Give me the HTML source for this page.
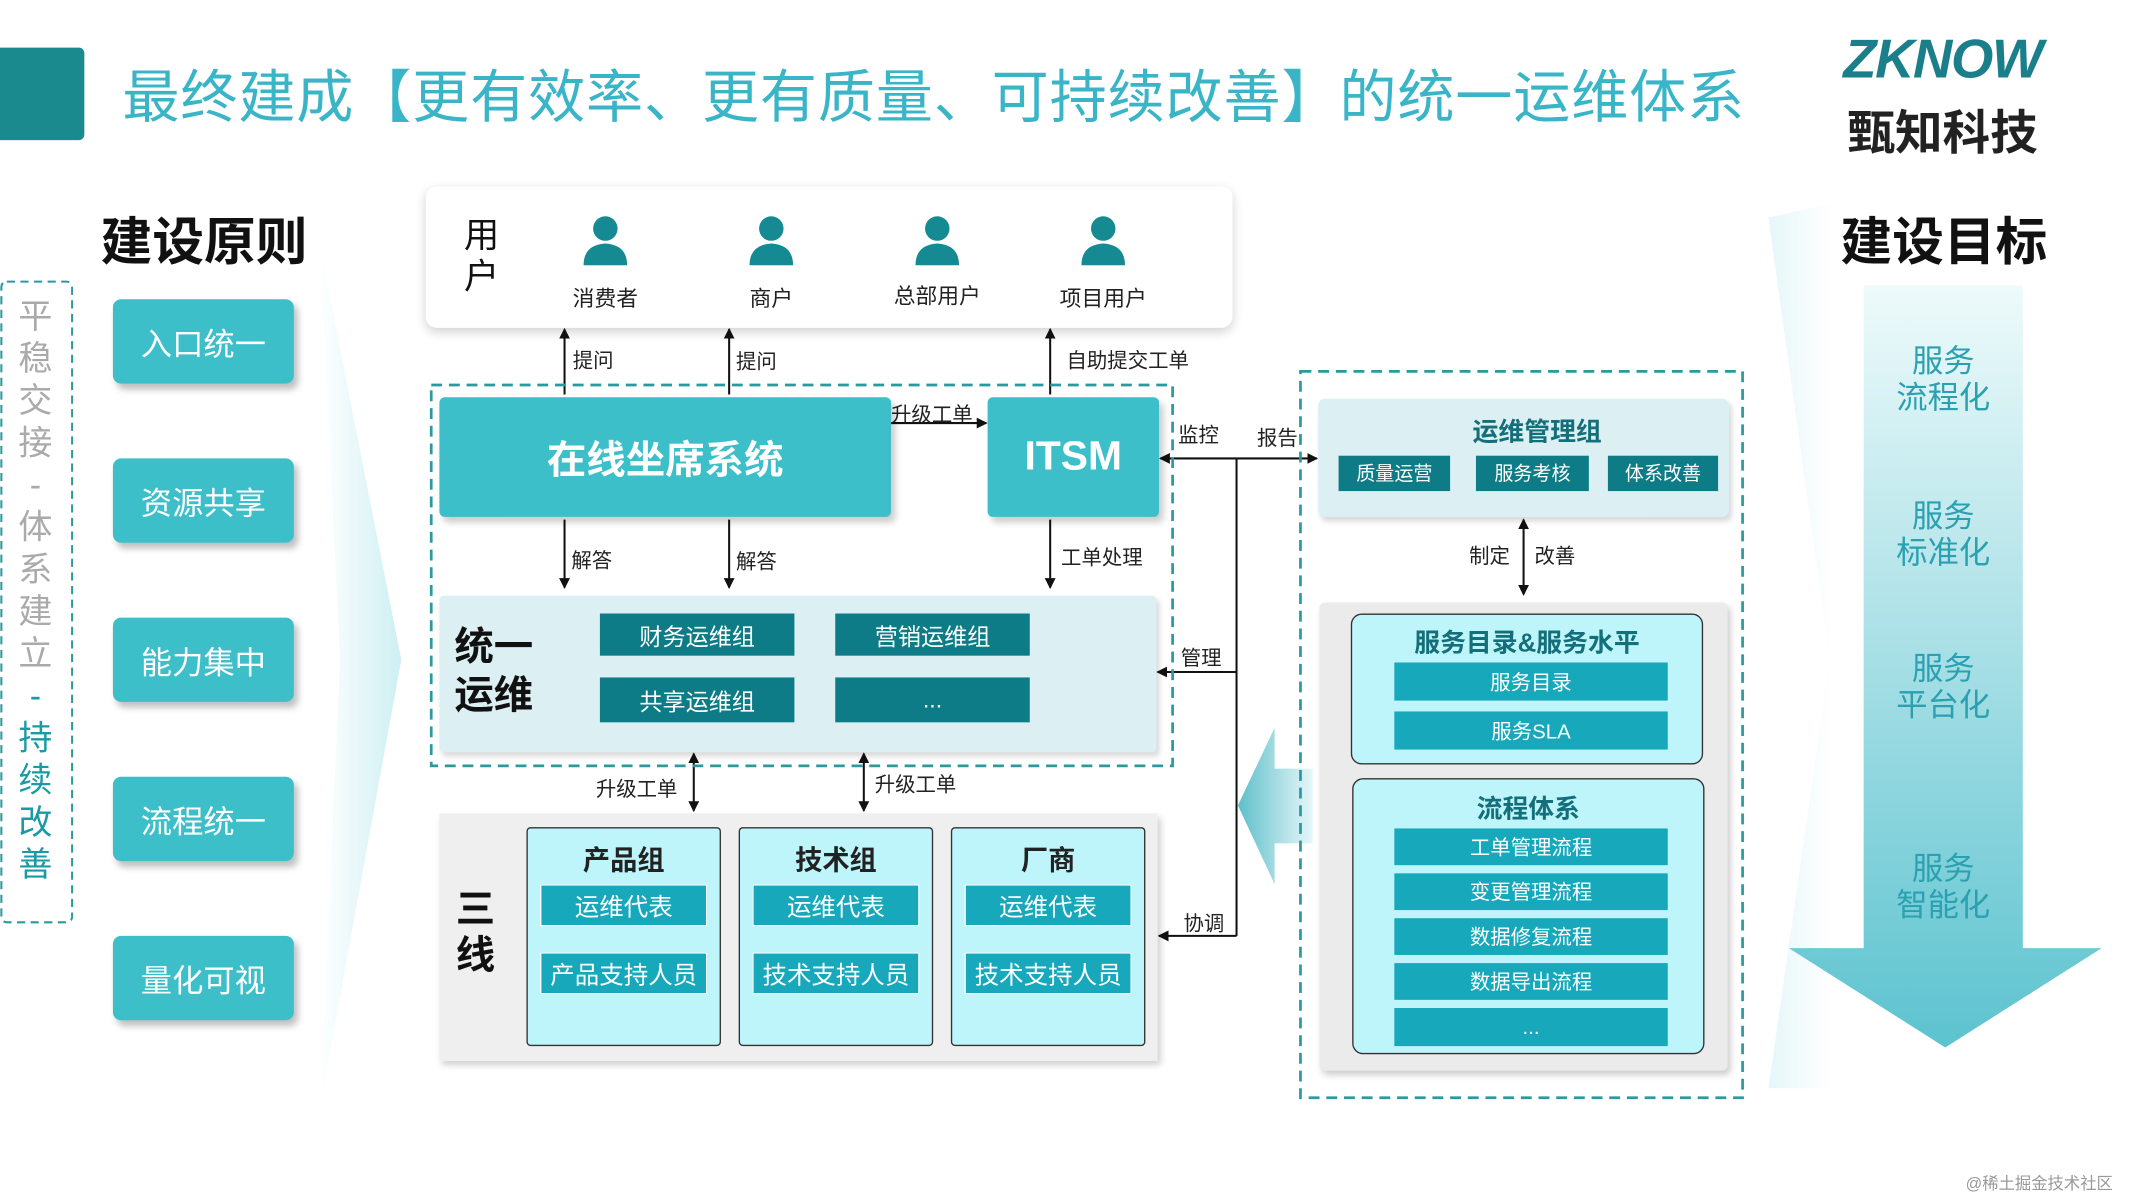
<!DOCTYPE html>
<html><head><meta charset="utf-8"><style>
html,body{margin:0;padding:0;background:#fff;overflow:hidden}
#w{position:absolute;left:0;top:0;width:1568px;height:882px;transform:scale(1.36033);transform-origin:0 0;font-family:"Liberation Sans","Noto Sans CJK SC",sans-serif}
.a{position:absolute;box-sizing:border-box}
.c{display:flex;align-items:center;justify-content:center;text-align:center}
.btn{left:83px;width:133px;height:62px;background:#3dbfca;color:#fff;font-size:23px;border-radius:6px;box-shadow:3px 4px 5px rgba(0,0,0,.25)}
.dk{background:#0e7c86;color:#fff;font-size:17px}
.md{background:#17a8bb;color:#fff;font-size:15px}
.md2{background:#17a8bb;color:#fff;font-size:18px;border:1px solid #fff}
.lb{font-size:15px;color:#222}
.col{background:#bdf5fb;border:1.5px solid #333;border-radius:3px}
.ttl{font-size:20px;font-weight:bold;color:#222}
.goal{left:1370px;width:117px;color:#2aa0b0;font-size:23px;line-height:27px;text-align:center}
</style></head><body><div id="w">
<div class="a" style="left:313px;top:137px;width:593px;height:104px;background:#fff;border-radius:8px;box-shadow:0 3px 8px rgba(0,0,0,.18)"></div>
<svg class="a" style="left:0;top:0" width="1568" height="882">
<defs>
<linearGradient id="g1" x1="0" y1="0" x2="0" y2="1"><stop offset="0" stop-color="#eefafb"/><stop offset="1" stop-color="#5cc3cf"/></linearGradient>
<linearGradient id="g2" x1="0" y1="0" x2="1" y2="0"><stop offset="0" stop-color="#5fbfca"/><stop offset="1" stop-color="#e6f7f9"/></linearGradient>
<linearGradient id="g3" x1="0" y1="0" x2="1" y2="0"><stop offset="0" stop-color="#fff"/><stop offset="1" stop-color="#cdeff3"/></linearGradient>
<linearGradient id="g4" x1="1" y1="0" x2="0" y2="0"><stop offset="0" stop-color="#fff"/><stop offset="1" stop-color="#cdeff3"/></linearGradient>
<marker id="m" markerWidth="8" markerHeight="8" refX="7" refY="4" orient="auto-start-reverse" markerUnits="userSpaceOnUse"><path d="M0,0L8,4L0,8z" fill="#111"/></marker>
</defs>
<path d="M235,180 L295,485 L235,815 L250,485Z" fill="url(#g3)"/>
<path d="M1345,150 L1300,160 L1345,485 L1300,800 L1345,800Z" fill="url(#g4)" opacity=".5"/>
<path d="M1370,210H1487V697H1545L1430,770L1315,697H1370Z" fill="url(#g1)"/>
<path d="M910,592 L937,535 V565 H965 V620 H937 V650Z" fill="url(#g2)"/>
<g stroke="#111" stroke-width="1.5" fill="none">
<line x1="415" y1="290" x2="415" y2="242" marker-end="url(#m)"/>
<line x1="536" y1="290" x2="536" y2="242" marker-end="url(#m)"/>
<line x1="772" y1="290" x2="772" y2="242" marker-end="url(#m)"/>
<line x1="655" y1="311" x2="725" y2="311" marker-end="url(#m)"/>
<line x1="415" y1="382" x2="415" y2="432" marker-end="url(#m)"/>
<line x1="536" y1="382" x2="536" y2="432" marker-end="url(#m)"/>
<line x1="772" y1="382" x2="772" y2="432" marker-end="url(#m)"/>
<line x1="510" y1="554" x2="510" y2="596" marker-start="url(#m)" marker-end="url(#m)"/>
<line x1="635" y1="554" x2="635" y2="596" marker-start="url(#m)" marker-end="url(#m)"/>
<line x1="909" y1="337" x2="909" y2="688"/>
<line x1="909" y1="337" x2="853" y2="337" marker-end="url(#m)"/>
<line x1="909" y1="337" x2="968" y2="337" marker-end="url(#m)"/>
<line x1="909" y1="494" x2="851" y2="494" marker-end="url(#m)"/>
<line x1="909" y1="688" x2="852" y2="688" marker-end="url(#m)"/>
<line x1="1120" y1="382" x2="1120" y2="437" marker-start="url(#m)" marker-end="url(#m)"/>
</g>
<rect x="317" y="283" width="545" height="280" fill="none" stroke="#2a9a9e" stroke-width="2" stroke-dasharray="8,5"/>
<rect x="956" y="273" width="325" height="534" fill="none" stroke="#2a9a9e" stroke-width="2" stroke-dasharray="8,5"/>
<rect x="1" y="207" width="52" height="471" rx="4" fill="none" stroke="#2a9a9e" stroke-width="1.5" stroke-dasharray="6,4"/>
<g fill="#168a93">
<g transform="translate(445,0)"><circle cx="0" cy="168" r="9"/><path d="M-16,195 Q-16,180 0,179 Q16,180 16,195Z"/></g>
<g transform="translate(567,0)"><circle cx="0" cy="168" r="9"/><path d="M-16,195 Q-16,180 0,179 Q16,180 16,195Z"/></g>
<g transform="translate(689,0)"><circle cx="0" cy="168" r="9"/><path d="M-16,195 Q-16,180 0,179 Q16,180 16,195Z"/></g>
<g transform="translate(811,0)"><circle cx="0" cy="168" r="9"/><path d="M-16,195 Q-16,180 0,179 Q16,180 16,195Z"/></g>
</g>
</svg>
<div class="a" style="left:0;top:35px;width:62px;height:68px;background:#1a8a8f;border-radius:0 4px 4px 0"></div>
<div class="a" style="left:90px;top:38px;font-size:42px;color:#3ab5c8;white-space:nowrap;letter-spacing:0.6px">最终建成【更有效率、更有质量、可持续改善】的统一运维体系</div>
<div class="a" style="left:1355px;top:22px;font-size:40px;font-weight:bold;color:#1a7f8a;letter-spacing:-1px;font-style:italic">ZKNOW</div>
<div class="a" style="left:1358px;top:70px;font-size:35px;font-weight:bold;color:#222">甄知科技</div>
<div class="a" style="left:74px;top:147px;font-size:38px;font-weight:bold;color:#111">建设原则</div>
<div class="a" style="left:1353px;top:147px;font-size:38px;font-weight:bold;color:#111">建设目标</div>
<div class="a" style="left:10px;top:218px;width:32px;font-size:25px;line-height:31px;color:#aaa;text-align:center">平<br>稳<br>交<br>接<br>-<br>体<br>系<br>建<br>立<br><span style="color:#1a9aa5">-<br>持<br>续<br>改<br>善</span></div>
<div class="a c btn" style="top:220px">入口统一</div>
<div class="a c btn" style="top:337px">资源共享</div>
<div class="a c btn" style="top:454px">能力集中</div>
<div class="a c btn" style="top:571px">流程统一</div>
<div class="a c btn" style="top:688px">量化可视</div>
<div class="a" style="left:341px;top:158px;width:28px;font-size:26px;line-height:30px;color:#111">用户</div>
<div class="a lb" style="left:405px;top:206px;width:80px;text-align:center;font-size:16px">消费者</div>
<div class="a lb" style="left:527px;top:206px;width:80px;text-align:center;font-size:16px">商户</div>
<div class="a lb" style="left:649px;top:204px;width:80px;text-align:center;font-size:16px">总部用户</div>
<div class="a lb" style="left:771px;top:206px;width:80px;text-align:center;font-size:16px">项目用户</div>
<div class="a lb" style="left:421px;top:254px">提问</div>
<div class="a lb" style="left:541px;top:255px">提问</div>
<div class="a lb" style="left:784px;top:254px">自助提交工单</div>
<div class="a lb" style="left:655px;top:294px">升级工单</div>
<div class="a lb" style="left:420px;top:401px">解答</div>
<div class="a lb" style="left:541px;top:402px">解答</div>
<div class="a lb" style="left:780px;top:399px">工单处理</div>
<div class="a lb" style="left:438px;top:569px">升级工单</div>
<div class="a lb" style="left:643px;top:566px">升级工单</div>
<div class="a lb" style="left:866px;top:309px">监控</div>
<div class="a lb" style="left:924px;top:311px">报告</div>
<div class="a lb" style="left:868px;top:473px">管理</div>
<div class="a lb" style="left:870px;top:668px">协调</div>
<div class="a lb" style="left:1080px;top:398px">制定</div>
<div class="a lb" style="left:1128px;top:398px">改善</div>
<div class="a c" style="left:323px;top:292px;width:332px;height:88px;background:#3dbfca;color:#fff;font-size:29px;font-weight:bold;border-radius:4px;box-shadow:3px 4px 5px rgba(0,0,0,.2)">在线坐席系统</div>
<div class="a c" style="left:726px;top:292px;width:126px;height:88px;background:#3dbfca;color:#fff;font-size:30px;font-weight:bold;border-radius:4px;box-shadow:3px 4px 5px rgba(0,0,0,.2)">ITSM</div>
<div class="a" style="left:323px;top:438px;width:527px;height:115px;background:#dcf0f3;border-radius:3px;box-shadow:2px 3px 4px rgba(0,0,0,.15)"></div>
<div class="a" style="left:334px;top:458px;font-size:29px;font-weight:bold;line-height:36px;color:#111">统一<br>运维</div>
<div class="a c dk" style="left:441px;top:451px;width:143px;height:31px">财务运维组</div>
<div class="a c dk" style="left:614px;top:451px;width:143px;height:31px">营销运维组</div>
<div class="a c dk" style="left:441px;top:498px;width:143px;height:33px">共享运维组</div>
<div class="a c dk" style="left:614px;top:498px;width:143px;height:33px">...</div>
<div class="a" style="left:323px;top:598px;width:528px;height:182px;background:#efefef;box-shadow:2px 3px 5px rgba(0,0,0,.2)"></div>
<div class="a" style="left:335px;top:652px;width:32px;font-size:29px;font-weight:bold;line-height:34px;color:#111">三线</div>
<div class="a col" style="left:387px;top:608px;width:143px;height:161px"></div>
<div class="a col" style="left:543px;top:608px;width:143px;height:161px"></div>
<div class="a col" style="left:699px;top:608px;width:143px;height:161px"></div>
<div class="a ttl" style="left:387px;top:616px;width:143px;text-align:center">产品组</div>
<div class="a ttl" style="left:543px;top:616px;width:143px;text-align:center">技术组</div>
<div class="a ttl" style="left:699px;top:616px;width:143px;text-align:center">厂商</div>
<div class="a c md2" style="left:397px;top:650px;width:123px;height:31px">运维代表</div>
<div class="a c md2" style="left:553px;top:650px;width:123px;height:31px">运维代表</div>
<div class="a c md2" style="left:709px;top:650px;width:123px;height:31px">运维代表</div>
<div class="a c md2" style="left:397px;top:700px;width:123px;height:31px">产品支持人员</div>
<div class="a c md2" style="left:553px;top:700px;width:123px;height:31px">技术支持人员</div>
<div class="a c md2" style="left:709px;top:700px;width:123px;height:31px">技术支持人员</div>
<div class="a" style="left:969px;top:293px;width:302px;height:87px;background:#dcf0f3;border-radius:5px;box-shadow:2px 3px 4px rgba(0,0,0,.15)"></div>
<div class="a" style="left:969px;top:303px;width:322px;text-align:center;font-size:19px;font-weight:bold;color:#156f7a">运维管理组</div>
<div class="a c dk" style="left:984px;top:335px;width:82px;height:26px;font-size:14px">质量运营</div>
<div class="a c dk" style="left:1085px;top:335px;width:83px;height:26px;font-size:14px">服务考核</div>
<div class="a c dk" style="left:1182px;top:335px;width:81px;height:26px;font-size:14px">体系改善</div>
<div class="a" style="left:970px;top:443px;width:300px;height:344px;background:#ebebeb;border-radius:4px;box-shadow:2px 3px 5px rgba(0,0,0,.2)"></div>
<div class="a col" style="left:993px;top:451px;width:259px;height:111px;border-radius:8px"></div>
<div class="a" style="left:993px;top:458px;width:259px;text-align:center;font-size:19px;font-weight:bold;color:#156f7a">服务目录&amp;服务水平</div>
<div class="a c md" style="left:1025px;top:487px;width:201px;height:28px">服务目录</div>
<div class="a c md" style="left:1025px;top:523px;width:201px;height:28px">服务SLA</div>
<div class="a col" style="left:994px;top:572px;width:259px;height:203px;border-radius:8px"></div>
<div class="a" style="left:994px;top:580px;width:259px;text-align:center;font-size:19px;font-weight:bold;color:#156f7a">流程体系</div>
<div class="a c md" style="left:1025px;top:609px;width:201px;height:27px">工单管理流程</div>
<div class="a c md" style="left:1025px;top:642px;width:201px;height:27px">变更管理流程</div>
<div class="a c md" style="left:1025px;top:675px;width:201px;height:27px">数据修复流程</div>
<div class="a c md" style="left:1025px;top:708px;width:201px;height:27px">数据导出流程</div>
<div class="a c md" style="left:1025px;top:741px;width:201px;height:28px">...</div>
<div class="a goal" style="top:252px">服务<br>流程化</div>
<div class="a goal" style="top:366px">服务<br>标准化</div>
<div class="a goal" style="top:478px">服务<br>平台化</div>
<div class="a goal" style="top:625px">服务<br>智能化</div>
<div class="a" style="left:1445px;top:861px;font-size:12px;color:#999">@稀土掘金技术社区</div>
</div></body></html>
